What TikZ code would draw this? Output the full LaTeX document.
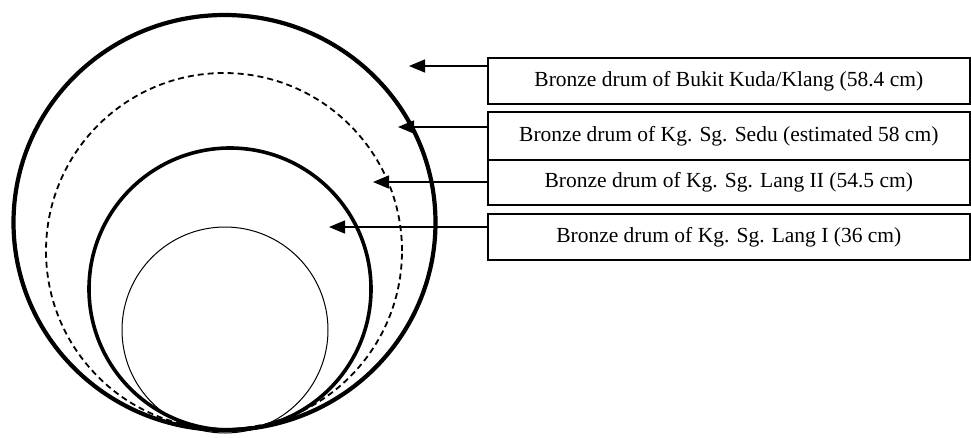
\documentclass[tikz,border=0pt]{standalone}
\usepackage{fontspec}
\setmainfont{Liberation Serif}
\usetikzlibrary{arrows.meta}
\tikzset{
  drumbox/.style={draw, line width=1.6pt, minimum width=482pt, inner sep=0pt, anchor=north west},
  pointer/.style={-{Triangle[length=16pt,width=13pt]}, line width=1.5pt}
}
\begin{document}
\begin{tikzpicture}[x=1pt,y=-1pt,font=\fontsize{21.5}{25}\selectfont]
			\useasboundingbox (0,0) rectangle (971,437);
			% draw circles
			\draw[line width=4.2pt] (224.5,222.5) ellipse [x radius=211pt, y radius=207.5pt];
			\draw[line width=1.8pt, dash pattern=on 6pt off 4pt] (224,251) circle (178pt);
			\draw[line width=3.6pt] (230,289) circle (141pt);
			\draw[line width=1pt] (225,330) circle (103pt);
			
			% draw boxes
			\node[drumbox, minimum height=46pt] (bukit) at (487,57) {Bronze drum of Bukit Kuda/Klang (58.4 cm)};
			\node[drumbox, minimum height=48pt] (sedu) at (487,111) {Bronze drum of Kg. Sg. Sedu (estimated 58 cm)};
			\node[drumbox, minimum height=45pt] (langii) at (487,159) {Bronze drum of Kg. Sg. Lang II (54.5 cm)};
			\node[drumbox, minimum height=46pt] (langi) at (487,213) {Bronze drum of Kg. Sg. Lang I (36 cm)};
			
			% arrow tips
			\coordinate (tipbukit) at (409,66);
			\coordinate (tipsedu) at (398,127);
			\coordinate (tiplangii) at (373,182);
			\coordinate (tiplangi) at (329,227);
			
			% draw arrows
			\draw[pointer] (bukit.west |- tipbukit) -- (tipbukit);
			\draw[pointer] (sedu.west |- tipsedu) -- (tipsedu);
			\draw[pointer] (langii.west |- tiplangii) -- (tiplangii);
			\draw[pointer] (langi.west |- tiplangi) -- (tiplangi);
\end{tikzpicture}
\end{document}
